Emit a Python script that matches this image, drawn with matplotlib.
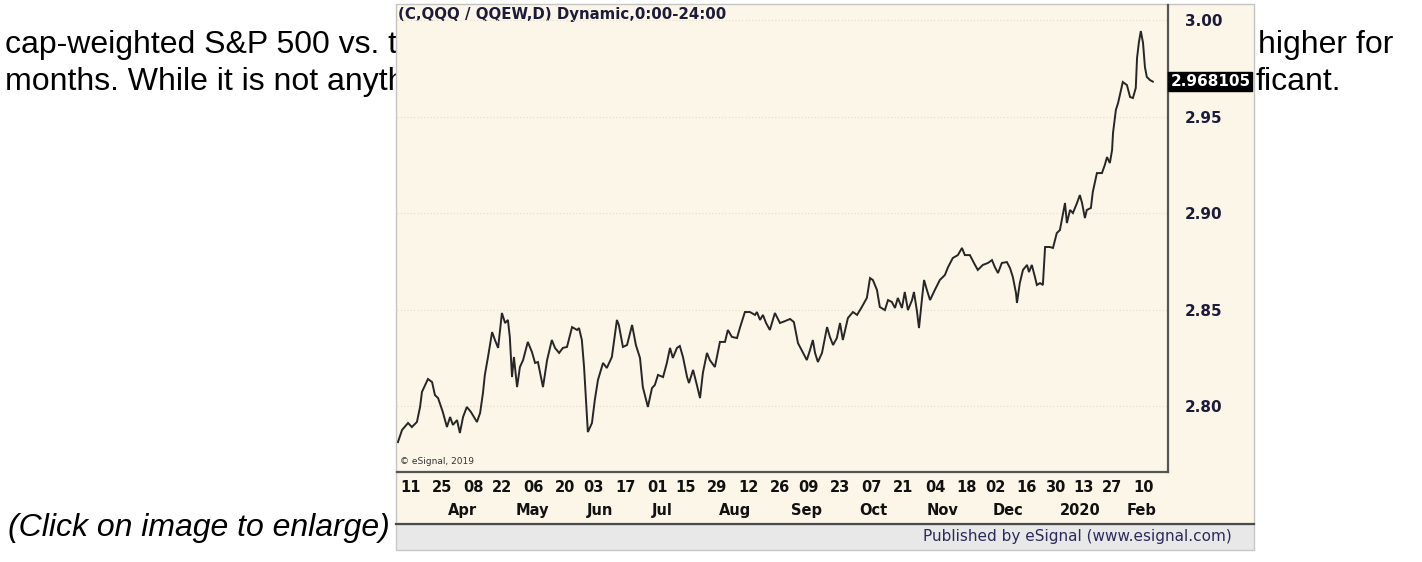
import numpy as np
import pandas as pd
import matplotlib
matplotlib.use("Agg")
import matplotlib.pyplot as plt
import matplotlib.transforms as mtransforms
from matplotlib.patches import Rectangle

# Handelstag-Index ab 05.03.2019 und Verhaeltnis QQQ / QQEW
bar = [0.0, 1.3, 3.2, 4.4, 6.0, 7.0, 7.6, 9.5, 10.8, 11.7, 12.7, 14.2, 15.5, 16.5, 17.4,
       18.7, 19.6, 20.6, 21.8, 23.1, 25.0, 26.0, 26.9, 27.5, 28.5, 29.8, 30.7, 31.7, 32.9,
       33.9, 34.8, 35.4, 36.1, 36.7, 37.7, 38.6, 39.6, 41.1, 42.4, 43.4, 44.3, 45.9, 47.2,
       48.7, 49.7, 51.0, 52.2, 53.5, 55.1, 56.7, 57.3, 58.2, 58.9, 59.5, 60.1, 61.4, 62.3,
       63.3, 64.9, 66.1, 67.7, 69.3, 69.9, 71.2, 72.5, 74.1, 75.3, 76.6, 77.5, 79.1, 80.4,
       81.3, 82.3, 83.9, 85.1, 86.1, 87.0, 88.3, 89.2, 90.2, 91.5, 92.1, 93.4, 94.6, 95.6,
       96.5, 97.8, 98.7, 100.3, 101.9, 103.5, 104.4, 105.7, 107.3, 108.2, 109.8, 111.4,
       113.0, 113.6, 114.6, 115.5, 116.5, 117.7, 119.3, 120.9, 122.5, 124.1, 125.3, 126.6,
       128.2, 129.4, 130.4, 131.3, 132.0, 132.9, 134.2, 135.8, 136.7, 137.7, 138.9, 139.9,
       140.8, 142.4, 144.0, 145.3, 146.8, 148.4, 149.4, 150.3, 151.6, 152.5, 154.1, 155.1,
       156.3, 157.3, 158.2, 159.5, 160.4, 161.4, 162.7, 163.3, 164.2, 164.9, 165.8, 166.5,
       167.4, 168.4, 169.9, 171.5, 173.1, 174.1, 175.6, 177.2, 178.5, 179.4, 181.0, 182.3,
       183.5, 185.1, 186.7, 188.0, 188.9, 189.9, 191.1, 192.7, 193.7, 194.6, 195.6, 195.9,
       196.8, 197.8, 199.1, 199.7, 200.6, 201.6, 202.2, 203.2, 204.1, 204.8, 206.3, 207.3,
       208.5, 209.5, 210.4, 211.1, 211.7, 212.7, 213.6, 214.9, 215.8, 216.5, 217.4, 218.0,
       219.3, 219.9, 221.2, 222.8, 223.7, 224.4, 225.3, 226.0, 226.3, 227.2, 227.9, 228.8,
       229.4, 230.7, 231.7, 232.6, 233.5, 233.9, 234.5, 235.1, 235.8, 236.4, 237.0, 238.0,
       238.9]
ratio = [2.7813, 2.7876, 2.7912, 2.7891, 2.7917, 2.7995, 2.8073, 2.8140, 2.8124, 2.8057,
         2.8041, 2.7969, 2.7891, 2.7943, 2.7902, 2.7927, 2.7860, 2.7943, 2.7995, 2.7969,
         2.7917, 2.7964, 2.8067, 2.8161, 2.8254, 2.8383, 2.8342, 2.8301, 2.8482, 2.8430,
         2.8446, 2.8358, 2.8150, 2.8254, 2.8098, 2.8202, 2.8238, 2.8332, 2.8280, 2.8223,
         2.8228, 2.8098, 2.8238, 2.8342, 2.8301, 2.8275, 2.8301, 2.8306, 2.8409, 2.8394,
         2.8404, 2.8342, 2.8202, 2.8031, 2.7865, 2.7912, 2.8031, 2.8135, 2.8223, 2.8197,
         2.8254, 2.8446, 2.8420, 2.8306, 2.8316, 2.8420, 2.8316, 2.8249, 2.8098, 2.7995,
         2.8093, 2.8109, 2.8161, 2.8150, 2.8223, 2.8301, 2.8249, 2.8301, 2.8311, 2.8254,
         2.8150, 2.8119, 2.8187, 2.8109, 2.8041, 2.8171, 2.8275, 2.8238, 2.8202, 2.8332,
         2.8332, 2.8394, 2.8358, 2.8352, 2.8404, 2.8487, 2.8487, 2.8472, 2.8487, 2.8446,
         2.8472, 2.8430, 2.8394, 2.8482, 2.8430, 2.8440, 2.8451, 2.8435, 2.8326, 2.8275,
         2.8238, 2.8290, 2.8342, 2.8275, 2.8228, 2.8275, 2.8409, 2.8358, 2.8316, 2.8352,
         2.8430, 2.8342, 2.8456, 2.8487, 2.8472, 2.8513, 2.8560, 2.8663, 2.8653, 2.8601,
         2.8513, 2.8497, 2.8549, 2.8539, 2.8508, 2.8560, 2.8508, 2.8591, 2.8497, 2.8549,
         2.8591, 2.8497, 2.8404, 2.8549, 2.8653, 2.8601, 2.8549, 2.8601, 2.8653, 2.8679,
         2.8720, 2.8767, 2.8782, 2.8819, 2.8782, 2.8782, 2.8741, 2.8705, 2.8731, 2.8741,
         2.8756, 2.8720, 2.8689, 2.8741, 2.8746, 2.8715, 2.8668, 2.8585, 2.8534, 2.8637,
         2.8705, 2.8731, 2.8694, 2.8731, 2.8668, 2.8627, 2.8637, 2.8627, 2.8824, 2.8824,
         2.8819, 2.8896, 2.8912, 2.8990, 2.9052, 2.8948, 2.9016, 2.9000, 2.9052, 2.9093,
         2.9052, 2.8974, 2.9016, 2.9026, 2.9109, 2.9207, 2.9207, 2.9249, 2.9290, 2.9259,
         2.9326, 2.9415, 2.9534, 2.9570, 2.9637, 2.9679, 2.9663, 2.9601, 2.9596, 2.9648,
         2.9803, 2.9886, 2.9943, 2.9881, 2.9756, 2.9705, 2.9689, 2.9681]
last_value = 2.968105

y_ticks = [2.80, 2.85, 2.90, 2.95, 3.00]
holidays = ["2019-04-19", "2019-05-27", "2019-07-04", "2019-09-02",
            "2019-11-28", "2019-12-25", "2020-01-01", "2020-01-20"]
month_labels = ["Apr", "May", "Jun", "Jul", "Aug", "Sep", "Oct", "Nov", "Dec", "2020", "Feb"]
month_pos = [20.3, 42.4, 63.9, 83.5, 106.6, 129.4, 150.6, 172.5, 193.0, 216.0, 235.4]

title = "(C,QQQ / QQEW,D) Dynamic,0:00-24:00"

# Handelstage -> Index, Ticks alle zwei Wochen (Montag)
tage = pd.bdate_range("2019-03-05", "2020-02-13", freq="C", holidays=holidays)
tick_daten = pd.date_range("2019-03-11", "2020-02-10", freq="14D")
tick_pos = tage.searchsorted(tick_daten)
tick_labels = list(tick_daten.strftime("%d"))

creme = "#fcf6e9"
navy = "#1c1c3a"
W, H = 1422, 562

fig = plt.figure(figsize=(W / 100, H / 100), dpi=100)
fig.patch.set_facecolor("white")

# Seite in Pixelkoordinaten (Fliesstext + Rahmen des Charts)
page = fig.add_axes([0, 0, 1, 1])
page.set_xlim(0, W)
page.set_ylim(H, 0)
page.axis("off")

body = dict(fontsize=23, family="Liberation Sans", color="black", va="baseline", zorder=1)
page.text(5, 53, "cap-weighted S&P 500 vs. th", **body)
page.text(5, 90, "months. While it is not anythi", **body)
page.text(1258, 53, "higher for", **body)
page.text(1256, 90, "ficant.", **body)
page.text(8, 536, "(Click on image to enlarge)", style="italic", **body)

chart_l, chart_r = 396, 1254
page.add_patch(Rectangle((chart_l, 4), chart_r - chart_l, 520, fc=creme, ec="#c4c4c4", lw=1, zorder=2))
page.add_patch(Rectangle((chart_l, 524), chart_r - chart_l, 26, fc="#e8e8e8", ec="#c8c8c8", lw=1, zorder=2))
page.plot([chart_l, chart_r], [524, 524], color="#4a4a4a", lw=1.6, zorder=3)

page.text(398, 15, title, fontsize=10.8, weight="bold", family="DejaVu Sans",
          color=navy, va="center", zorder=3)
page.text(400, 461, "\u00a9 eSignal, 2019", fontsize=6.5, family="DejaVu Sans",
          color="#333333", va="center", zorder=3)
page.text(1232, 537, "Published by eSignal (www.esignal.com)", fontsize=11,
          family="DejaVu Sans", color="#2b2b5b", ha="right", va="center", zorder=3)

# Plotbereich
ax = fig.add_axes([397 / W, 1 - 472 / H, (1168 - 397) / W, (472 - 5) / H])
ax.patch.set_visible(False)
ax.set_zorder(2)
ax.plot(bar, ratio, color="#262626", lw=1.4, solid_joinstyle="miter")
ax.set_xlim(-0.3, 243.7)
ax.set_ylim(2.7658, 3.0078)

for s in ["left", "top"]:
    ax.spines[s].set_visible(False)
for s in ["right", "bottom"]:
    ax.spines[s].set_color("#555555")
    ax.spines[s].set_linewidth(1.6)

ax.yaxis.tick_right()
ax.set_yticks(y_ticks)
ax.set_yticklabels([f"{v:.2f}" for v in y_ticks], fontweight="bold",
                   family="DejaVu Sans", color=navy)
ax.tick_params(axis="y", length=0, pad=12, labelsize=11)
ax.grid(axis="y", color="#e8dfcd", ls=":", lw=0.9)

ax.xaxis.remove_overlapping_locs = False
ax.set_xticks(tick_pos)
ax.set_xticklabels(tick_labels, fontweight="bold", family="DejaVu Sans", color="#111111")
ax.set_xticks(month_pos, minor=True)
ax.set_xticklabels(month_labels, minor=True, fontweight="bold", family="DejaVu Sans",
                   color="#111111")
ax.tick_params(axis="x", which="major", length=0, pad=5.5, labelsize=10.5)
ax.tick_params(axis="x", which="minor", length=0, pad=22, labelsize=10.5)

# Letzter Kurs in schwarzer Box
trans = mtransforms.blended_transform_factory(ax.transAxes, ax.transData)
ax.text(1.003, last_value, f"{last_value:.6f}", transform=trans, ha="left", va="center",
        color="white", fontsize=11, weight="bold", family="DejaVu Sans", clip_on=False,
        bbox=dict(boxstyle="square,pad=0.12", fc="black", ec="black"))

fig.savefig("out.png", dpi=100, facecolor="white")
